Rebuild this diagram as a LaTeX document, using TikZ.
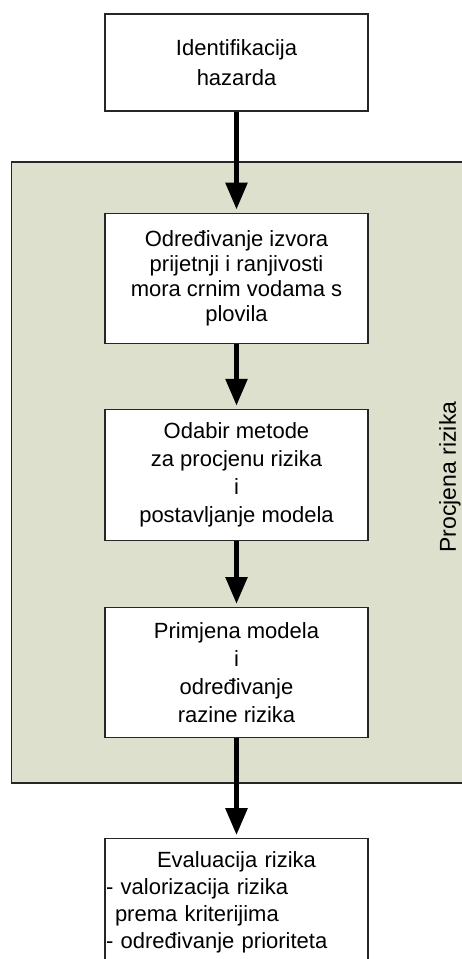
\documentclass[tikz,border=0pt]{standalone}
\usepackage{fontspec}
\setmainfont{Liberation Sans}
\usetikzlibrary{arrows.meta,backgrounds,positioning}
\definecolor{panelgreen}{RGB}{221,224,204}
\tikzset{
  korak/.style={draw=black!85, line width=1.2pt, fill=white,
    minimum width=263pt, minimum height=130pt, inner sep=0pt,
    align=center, font=\fontsize{22}{28}\selectfont},
  strela/.style={-{Triangle[length=27pt,width=21pt]}, line width=5.5pt,
    shorten >=3pt}
}
\begin{document}
\begin{tikzpicture}[x=1pt,y=-1pt]
  \useasboundingbox (0,0) rectangle (461,959);
  \node[korak, minimum height=97pt, font=\fontsize{22}{30}\selectfont]
    (hazard) at (236.5,62.5) {Identifikacija\\hazarda};
  \node[korak, font=\fontsize{22}{25}\selectfont] (izvori) [below=101pt of hazard]
    {Određivanje izvora\\prijetnji i ranjivosti\\mora crnim vodama s\\plovila};
  \node[korak, minimum height=131pt] (metoda) [below=65pt of izvori]
    {Odabir metode\\za procjenu rizika\\i\\postavljanje modela};
  \node[korak] (razina) [below=66pt of metoda]
    {Primjena modela\\i\\određivanje\\razine rizika};
  \node[korak, minimum height=0pt, inner ysep=13pt, anchor=north,
    text width=261pt, align=left, font=\fontsize{22}{27}\selectfont]
    (evaluacija) at ([yshift=-100pt]razina.south)
    {\makebox[261pt][c]{Evaluacija rizika}\\
     - valorizacija rizika\\
     \hspace*{9pt}prema kriterijima\\
     - određivanje prioriteta\\[40pt]};
  \node[rotate=90, font=\fontsize{23}{27}\selectfont] (procjena) at (450,477)
    {Procjena rizika};
  % pozadina procjene
  \begin{scope}[on background layer]
    \draw[draw=black!85, line width=1.2pt, fill=panelgreen]
      (11.5,162) rectangle (475,783);
  \end{scope}
  \draw[strela] (hazard) -- (izvori);
  \draw[strela] (izvori) -- (metoda);
  \draw[strela] (metoda) -- (razina);
  \draw[strela] (razina) -- (evaluacija);
\end{tikzpicture}
\end{document}
